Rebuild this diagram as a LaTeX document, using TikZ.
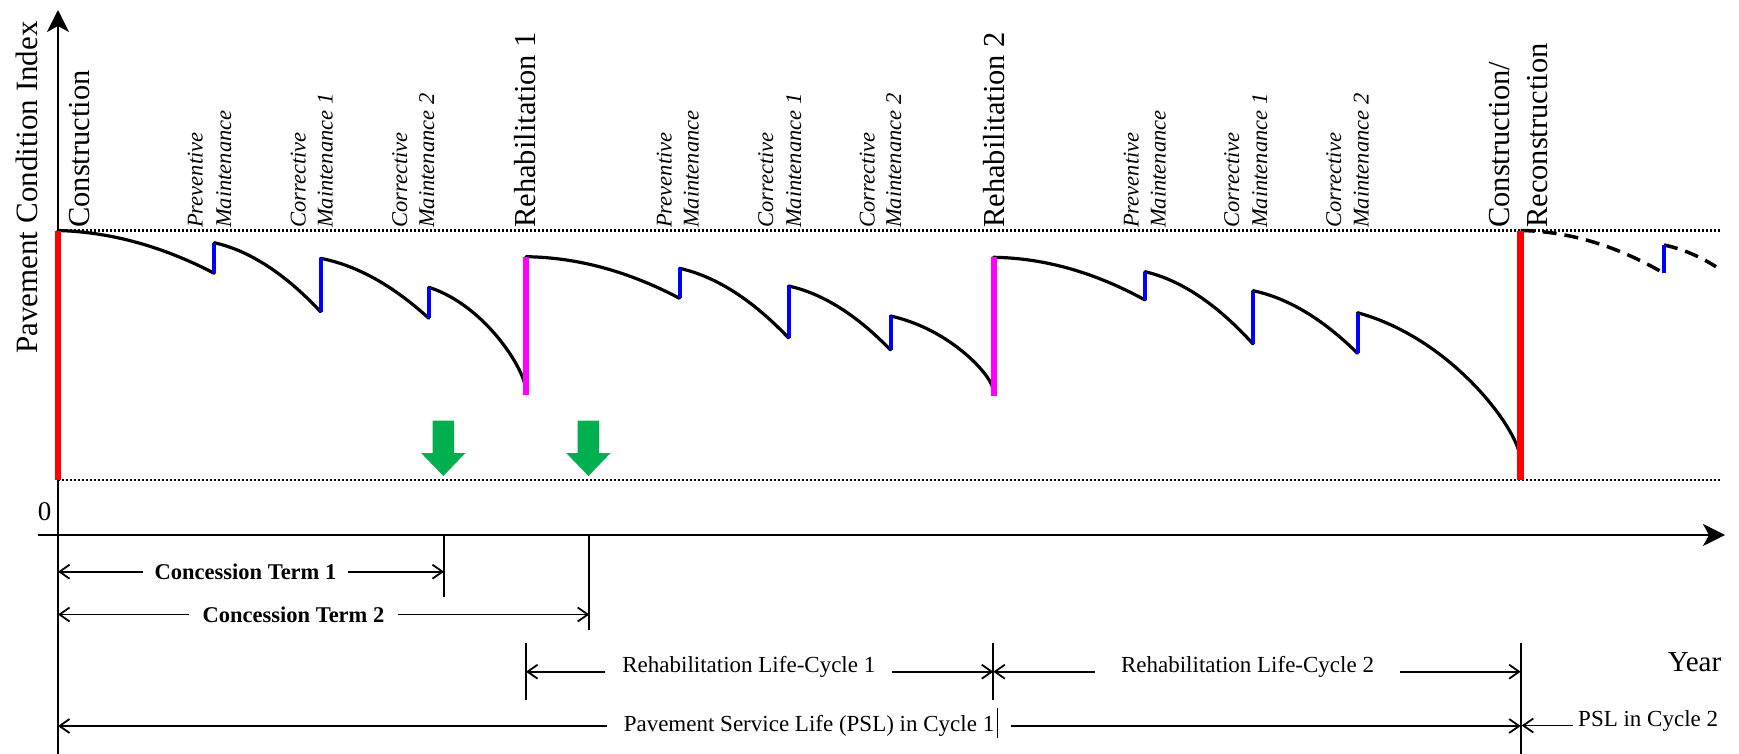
\documentclass[tikz,border=0pt]{standalone}
\usepackage{fontspec}
\setmainfont{Liberation Serif}
\usetikzlibrary{arrows.meta}
\definecolor{cuegreen}{RGB}{0,176,80}
\definecolor{treatred}{RGB}{255,0,0}
\definecolor{treatblue}{RGB}{0,0,255}
\definecolor{treatmagenta}{RGB}{255,0,255}

% decay of the condition index between two treatments (a = linear share)
\newcommand\wearseg[6][]{%
  \draw[wear,#1] plot[domain=0:1,samples=40,variable=\t]
    ({#2+(#4-#2)*\t},{#3+(#5-#3)*((#6)*\t+(1-(#6))*\t*\t)});}
% last decay of a cycle, ending with a vertical tangent
\newcommand\wearend[4]{%
  \draw[wear] plot[domain=0:1,samples=50,variable=\t]
    ({#1+(#3-#1)*(1-(1-\t)*(1-\t))},
     {#2+(#4-#2)*(0.6*\t+0.4*(1-(1-\t)*(1-\t))*(1-(1-\t)*(1-\t)))});}
% green marker arrow pointing down to the threshold line
\newcommand\greenmark[1]{%
  \fill[cuegreen] (#1-10.7,420.7) -- (#1+10.7,420.7) -- (#1+10.7,453) -- (#1+22.2,453)
    -- (#1,476) -- (#1-22.2,453) -- (#1-10.7,453) -- cycle;}

\begin{document}
\begin{tikzpicture}[x=1pt,y=-1pt,
  axis/.style={line width=2.4pt},
  guide/.style={line width=2.2pt,dash pattern=on 2pt off 2pt},
  wear/.style={line width=3.2pt,line cap=round},
  prevent/.style={treatblue,line width=4pt},
  rehab/.style={treatmagenta,line width=6pt},
  build/.style={treatred,line width=6.5pt},
  biglabel/.style={rotate=90,anchor=base west,inner sep=0pt,font=\fontsize{30.5}{36}\selectfont},
  mlabel/.style={rotate=90,anchor=base west,inner sep=0pt,font=\fontsize{22.5}{27}\itshape},
  dim/.style={line width=1.8pt,{Straight Barb[length=10pt,width=14pt]}-{Straight Barb[length=10pt,width=14pt]}},
  onedim/.style={line width=1.8pt,{Straight Barb[length=10pt,width=14pt]}-},
  tick/.style={line width=1.8pt},
  dimlabel/.style={fill=white,inner xsep=15pt,inner ysep=2pt,anchor=base,font=\fontsize{23}{27}\selectfont},
]
\useasboundingbox (0,0) rectangle (1739,754);

% threshold guides
\coordinate (gtl) at (58,230.5);  \coordinate (gtr) at (1720,230.5);
\coordinate (gbl) at (58,480);    \coordinate (gbr) at (1720,480);
\draw[guide] (gtl) -- (gtr);
\draw[guide] (gbl) -- (gbr);

% axes
\coordinate (ytop) at (58,10);  \coordinate (ybot) at (58,754);
\coordinate (xl) at (38,535);   \coordinate (xr) at (1725,535);
\draw[axis,-{Stealth[length=22pt,width=22pt,inset=6pt]}] (ybot) -- (ytop);
\draw[axis,-{Stealth[length=22pt,width=22pt,inset=6pt]}] (xl) -- (xr);
\node[rotate=90,anchor=base,inner sep=0pt,font=\fontsize{31}{36}\selectfont] (ylab) at (37,187.5) {Pavement Condition Index};
\node[font=\fontsize{27}{32}\selectfont,inner sep=0pt] (zero) at (44.6,511.7) {0};
\node[anchor=base,inner sep=0pt,font=\fontsize{29}{34}\selectfont] (year) at (1694.5,671.7) {Year};

% cycle 1
\wearseg{58}{230.5}{214.3}{273.3}{0.1}
\wearseg{214.3}{242.7}{320.5}{311.7}{0.35}
\wearseg{320.5}{258.3}{428.8}{318.3}{0.35}
\wearend{428.8}{287.3}{526}{392}
% cycle 2
\wearseg{526}{256.7}{679.5}{298.3}{0.05}
\wearseg{679.5}{268.3}{788.6}{338}{0.35}
\wearseg{788.6}{286}{890.5}{350}{0.35}
\wearend{890.5}{316}{993.5}{392}
% cycle 3
\wearseg{993.5}{257.3}{1145}{300}{0.05}
\wearseg{1145}{271.7}{1253}{344}{0.35}
\wearseg{1253}{290.7}{1357.5}{353.3}{0.35}
\wearend{1357.5}{312.7}{1520.7}{462}
% next service life
\wearseg[line cap=butt,line width=3.5pt,dash pattern=on 14pt off 8pt]{1520.7}{230.5}{1664}{273.3}{0.05}
\wearseg[line cap=butt,line width=3.5pt,dash pattern=on 14pt off 8pt]{1664}{245}{1716}{266.7}{0.5}

% treatments
\draw[build] (58,480) -- (58,230.5);
\draw[prevent] (214.3,273.3) -- (214.3,242.7);
\draw[prevent] (320.5,311.7) -- (320.5,258.3);
\draw[prevent] (428.8,318.3) -- (428.8,287.3);
\draw[rehab] (526,395) -- (526,256.7);
\draw[prevent] (679.5,298.3) -- (679.5,268.3);
\draw[prevent] (788.6,338) -- (788.6,286);
\draw[prevent] (890.5,350) -- (890.5,316);
\draw[rehab] (993.5,396) -- (993.5,257.3);
\draw[prevent] (1145,300) -- (1145,271.7);
\draw[prevent] (1253,344) -- (1253,290.7);
\draw[prevent] (1357.5,353.3) -- (1357.5,312.7);
\draw[build] (1520.7,480) -- (1520.7,230.5);
\draw[prevent] (1664,273.3) -- (1664,245);

% treatment labels
\node[biglabel] (lcon) at (89,228) {Construction};
\node[mlabel] (lpm1a) at (202.5,228) {Preventive};
\node[mlabel] (lpm1b) at (231,228) {Maintenance};
\node[mlabel] (lca1a) at (305.5,228) {Corrective};
\node[mlabel] (lca1b) at (332.5,228) {Maintenance 1};
\node[mlabel] (lcb1a) at (407,228) {Corrective};
\node[mlabel] (lcb1b) at (434,228) {Maintenance 2};
\node[biglabel] (lreh1) at (535,228) {Rehabilitation 1};
\node[mlabel] (lpm2a) at (671.5,228) {Preventive};
\node[mlabel] (lpm2b) at (698.5,228) {Maintenance};
\node[mlabel] (lca2a) at (773,228) {Corrective};
\node[mlabel] (lca2b) at (801,228) {Maintenance 1};
\node[mlabel] (lcb2a) at (874.5,228) {Corrective};
\node[mlabel] (lcb2b) at (901,228) {Maintenance 2};
\node[biglabel] (lreh2) at (1004,228) {Rehabilitation 2};
\node[mlabel] (lpm3a) at (1138.5,228) {Preventive};
\node[mlabel] (lpm3b) at (1165.5,228) {Maintenance};
\node[mlabel] (lca3a) at (1239,228) {Corrective};
\node[mlabel] (lca3b) at (1267,228) {Maintenance 1};
\node[mlabel] (lcb3a) at (1341,228) {Corrective};
\node[mlabel] (lcb3b) at (1368.5,228) {Maintenance 2};
\node[biglabel] (lrec1) at (1509,228) {Construction/};
\node[biglabel] (lrec2) at (1547,228) {Reconstruction};

% concession ends
\greenmark{443.3}
\greenmark{588.4}

% period ticks
\draw[tick] (444,536) -- (444,597);
\draw[tick] (589.3,536) -- (589.3,630);
\draw[tick] (526,643) -- (526,700);
\draw[tick] (993.3,643) -- (993.3,700);
\draw[tick] (1520.7,643) -- (1520.7,754);

% periods
\coordinate (c1a) at (58,571.7);   \coordinate (c1b) at (444,571.7);
\coordinate (c2a) at (58,614.5);   \coordinate (c2b) at (589.3,614.5);
\coordinate (r1a) at (526,671.7);  \coordinate (r1b) at (993.3,671.7);
\coordinate (r2a) at (993.3,671.7);\coordinate (r2b) at (1520.7,671.7);
\coordinate (p1a) at (58,726);     \coordinate (p1b) at (1520.7,726);
\coordinate (p2a) at (1521.7,725.5);\coordinate (p2b) at (1573,725.5);
\draw[dim] (c1a) -- (c1b);
\draw[dim] (c2a) -- (c2b);
\draw[dim] (r1a) -- (r1b);
\draw[dim] (r2a) -- (r2b);
\draw[dim] (p1a) -- (p1b);
\draw[onedim] (p2a) -- (p2b);
\node[dimlabel,font=\fontsize{22.5}{27}\bfseries,inner xsep=12pt] (tc1) at (245.5,579) {Concession Term 1};
\node[dimlabel,font=\fontsize{22.5}{27}\bfseries,inner xsep=14pt] (tc2) at (293.5,622.7) {Concession Term 2};
\node[dimlabel,inner xsep=17pt] (trl1) at (748.8,672.5) {Rehabilitation Life-Cycle 1};
\node[dimlabel,inner xsep=26pt] (trl2) at (1247.5,672.5) {Rehabilitation Life-Cycle 2};
\node[dimlabel,inner xsep=17pt] (tpsl1) at (809,731) {Pavement Service Life (PSL) in Cycle 1};
\node[anchor=base west,inner sep=0pt,font=\fontsize{23}{27}\selectfont] (tpsl2) at (1578,726.7) {PSL in Cycle 2};
% short mark closing the cycle-1 label
\draw[line width=1.3pt] (997.7,708) -- (997.7,738);
\end{tikzpicture}
\end{document}
